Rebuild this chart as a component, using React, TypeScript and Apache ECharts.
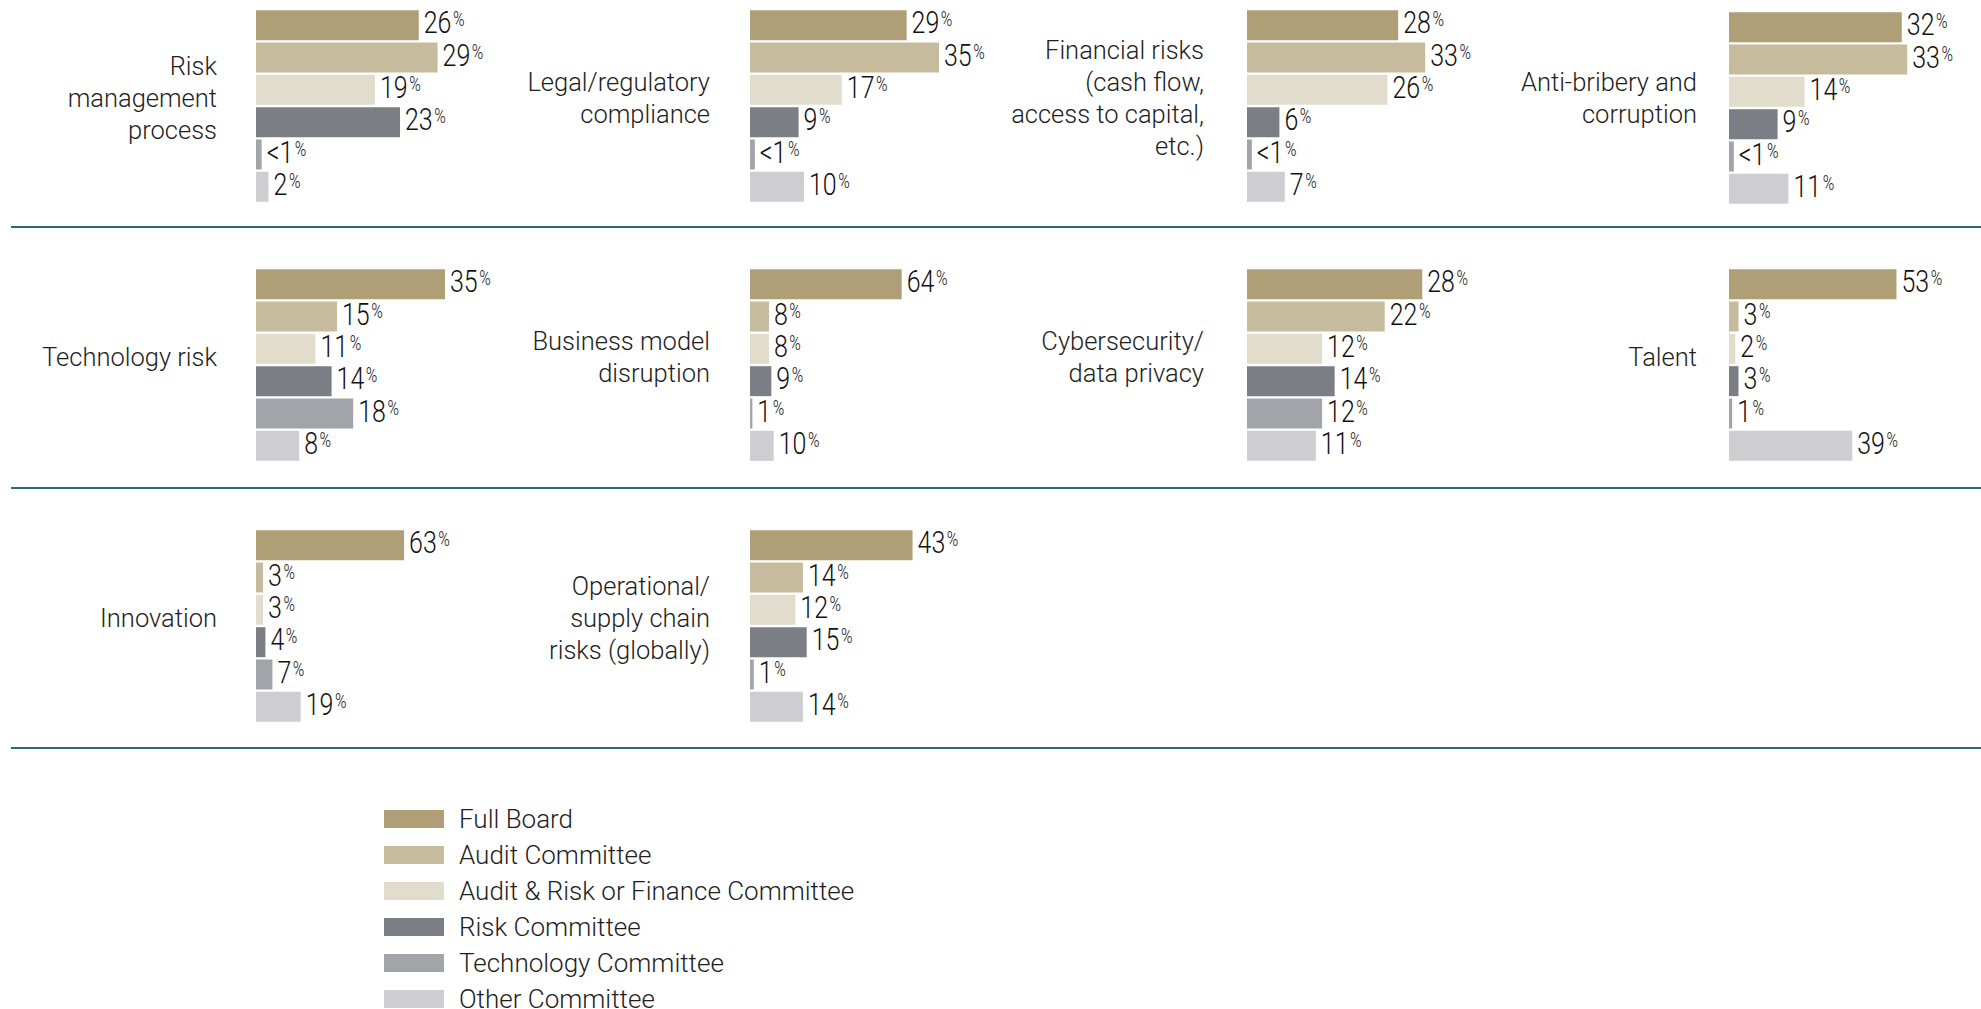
import React, { useEffect, useRef } from "react";
import * as echarts from "echarts";

// ---- Data ----
const committees = [
  "Full Board",
  "Audit Committee",
  "Audit & Risk or Finance Committee",
  "Risk Committee",
  "Technology Committee",
  "Other Committee",
];

const topics = [
  "Risk\nmanagement\nprocess",
  "Legal/regulatory\ncompliance",
  "Financial risks\n(cash flow,\naccess to capital,\netc.)",
  "Anti-bribery and\ncorruption",
  "Technology risk",
  "Business model\ndisruption",
  "Cybersecurity/\ndata privacy",
  "Talent",
  "Innovation",
  "Operational/\nsupply chain\nrisks (globally)",
];

// values in %, 0.9 stands for "<1"
const riskManagement = [26, 29, 19, 23, 0.9, 2];
const legalRegulatory = [29, 35, 17, 9, 0.9, 10];
const financialRisks = [28, 33, 26, 6, 0.9, 7];
const antiBribery = [32, 33, 14, 9, 0.9, 11];
const technologyRisk = [35, 15, 11, 14, 18, 8];
const businessModel = [64, 8, 8, 9, 1, 10];
const cybersecurity = [28, 22, 12, 14, 12, 11];
const talent = [53, 3, 2, 3, 1, 39];
const innovation = [63, 3, 3, 4, 7, 19];
const operational = [43, 14, 12, 15, 1, 14];

const panelValues = [
  riskManagement,
  legalRegulatory,
  financialRisks,
  antiBribery,
  technologyRisk,
  businessModel,
  cybersecurity,
  talent,
  innovation,
  operational,
];

// ---- Layout / style ----
const colors = ["#ae9f77", "#c7bb9d", "#e2dccc", "#7b7e85", "#a3a4a9", "#cdcdd2"];
const colBarX = [256, 750, 1247, 1729];
const colLabelRight = [217, 710, 1204, 1697];
const rowTop = [9, 268, 529];
const gridH = 194;
const gridW = 240;
// pixels per percentage point for each panel (each panel has its own scale)
const pxPerPct = [6.26, 5.4, 5.4, 5.4, 5.4, 2.37, 6.26, 3.16, 2.35, 3.78];
const dividerY = [227, 488, 748];

const labelFont = "Roboto, 'Liberation Sans', Arial, sans-serif";
const numFont = "Roboto, 'DejaVu Sans', sans-serif";

export default function App() {
  const ref = useRef<HTMLDivElement>(null);

  useEffect(() => {
    if (!ref.current) return;
    const chart = echarts.init(ref.current, null, { renderer: "svg" });

    const grids: any[] = [];
    const xAxes: any[] = [];
    const yAxes: any[] = [];
    const series: any[] = [];
    const graphics: any[] = [];

    panelValues.forEach((vals, p) => {
      const row = Math.floor(p / 4);
      const col = p % 4;
      grids.push({
        left: colBarX[col],
        top: rowTop[row] + (p === 3 ? 2 : 0),
        width: gridW,
        height: gridH,
        containLabel: false,
      });
      xAxes.push({
        type: "value",
        gridIndex: p,
        min: 0,
        max: gridW / pxPerPct[p],
        show: false,
      });
      yAxes.push({
        type: "category",
        gridIndex: p,
        data: committees,
        inverse: true,
        show: false,
      });
      committees.forEach((name, c) => {
        series.push({
          type: "bar",
          name,
          xAxisIndex: p,
          yAxisIndex: p,
          stack: "panel" + p,
          barWidth: 30,
          silent: true,
          itemStyle: { color: colors[c] },
          data: vals.map((v, i) => (i === c ? v : "-")),
        });
      });
      // value labels (condensed digits with superscript %)
      series.push({
        type: "custom",
        name: "labels" + p,
        xAxisIndex: p,
        yAxisIndex: p,
        silent: true,
        clip: false,
        encode: { x: 0, y: 1 },
        data: vals.map((v, i) => [v, i]),
        renderItem: (params: any, api: any) => {
          const v = api.value(0) as number;
          const i = api.value(1) as number;
          const pt = api.coord([v, i]);
          const t = v < 1 ? "<1" : String(v);
          return {
            type: "text",
            x: pt[0] + 5,
            y: pt[1] - 3,
            scaleX: 0.78,
            style: {
              text: "{n|" + t + "}{p|%}",
              align: "left",
              verticalAlign: "middle",
              fill: "#111111",
              rich: {
                n: {
                  fontSize: 32,
                  fontWeight: 300,
                  lineHeight: 26,
                  fontFamily: numFont,
                  fill: "#111111",
                },
                p: {
                  fontSize: 20,
                  fontWeight: 300,
                  fontFamily: numFont,
                  fill: "#111111",
                  padding: [0, 0, 6, 2],
                },
              },
            },
          };
        },
      });
      graphics.push({
        type: "text",
        x: colLabelRight[col],
        y: rowTop[row] + 89,
        style: {
          text: topics[p],
          fontSize: 25.5,
          fontWeight: 300,
          lineHeight: 32,
          fontFamily: labelFont,
          fill: "#1e1e1e",
          align: "right",
          verticalAlign: "middle",
        },
      });
    });

    dividerY.forEach((y) => {
      graphics.push({
        type: "line",
        shape: { x1: 11, y1: y, x2: 1981, y2: y },
        style: { stroke: "#2a6b74", lineWidth: 2 },
      });
    });

    chart.setOption({
      animation: false,
      backgroundColor: "#ffffff",
      grid: grids,
      xAxis: xAxes,
      yAxis: yAxes,
      series,
      graphic: graphics,
      legend: {
        data: committees,
        orient: "vertical",
        left: 384,
        top: 806,
        height: 400,
        padding: 0,
        itemWidth: 60,
        itemHeight: 18,
        itemGap: 10,
        icon: "rect",
        selectedMode: false,
        textStyle: {
          fontSize: 26,
          fontWeight: 300,
          fontFamily: labelFont,
          color: "#1e1e1e",
          padding: [0, 0, 0, 10],
        },
      },
    });

    return () => chart.dispose();
  }, []);

  return (
    <div
      ref={ref}
      style={{ position: "fixed", left: 0, top: 0, width: 1981, height: 1009 }}
    />
  );
}
